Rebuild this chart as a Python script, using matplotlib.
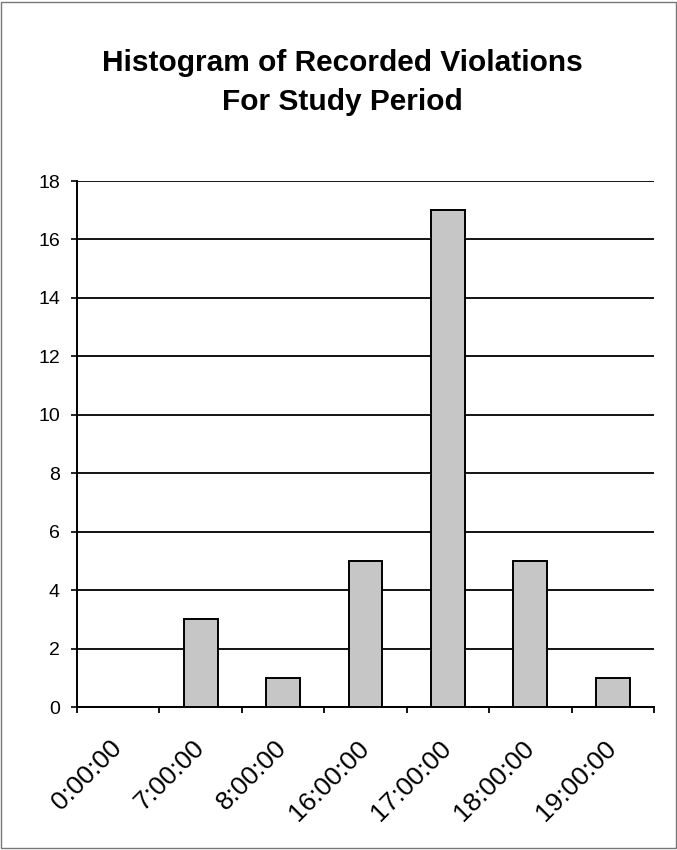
import matplotlib
matplotlib.use("Agg")
import matplotlib.pyplot as plt
from matplotlib.patches import Rectangle

categories = ["0:00:00", "7:00:00", "8:00:00", "16:00:00", "17:00:00", "18:00:00", "19:00:00"]
counts = [0, 3, 1, 5, 17, 5, 1]
y_ticks = [0, 2, 4, 6, 8, 10, 12, 14, 16, 18]
title_lines = ["Histogram of Recorded Violations", "For Study Period"]

plt.rcParams['font.family'] = ['Liberation Sans', 'DejaVu Sans']

W, H = 677, 850
fig = plt.figure(figsize=(W / 100, H / 100), dpi=100)
ax = fig.add_axes([77 / W, 1 - 707 / H, (654 - 77) / W, (707 - 181) / H])

x = list(range(len(categories)))
ax.bar(x, counts, width=0.41, color="#c6c6c6", edgecolor="black", linewidth=1.4, zorder=3)

ax.set_xlim(-0.5, len(categories) - 0.5)
ax.set_ylim(0, 18)
ax.set_yticks(y_ticks)
ax.set_yticklabels([str(v) for v in y_ticks], fontsize=14)
ax.yaxis.grid(True, color="black", linewidth=1.3, zorder=0)
ax.set_axisbelow(True)

# category boundaries as ticks, labels at category centers
ax.set_xticks([i - 0.5 for i in range(len(categories) + 1)])
ax.set_xticklabels([])
ax.set_xticks(x, minor=True)
ax.set_xticklabels(categories, minor=True, rotation=45, ha="right", va="center",
                   rotation_mode="anchor", fontsize=19)
ax.tick_params(axis="x", which="major", direction="out", length=4.5, width=1.3)
ax.tick_params(axis="x", which="minor", length=0, pad=27)
ax.tick_params(axis="y", direction="out", length=4.3, width=1.2, pad=8)

for s in ["top", "right"]:
    ax.spines[s].set_visible(False)
ax.spines["left"].set_linewidth(1.4)
ax.spines["bottom"].set_linewidth(1.4)

fig.text(342 / W, 1 - 71 / H, title_lines[0], ha="center", va="baseline",
         fontsize=21.5, fontweight="bold")
fig.text(342 / W, 1 - 110 / H, title_lines[1], ha="center", va="baseline",
         fontsize=21.5, fontweight="bold")

fig.patches.append(Rectangle((0.002, 0.002), 0.996, 0.996, transform=fig.transFigure,
                             fill=False, edgecolor="#777777", linewidth=1.0))

fig.savefig("out.png", dpi=100)
